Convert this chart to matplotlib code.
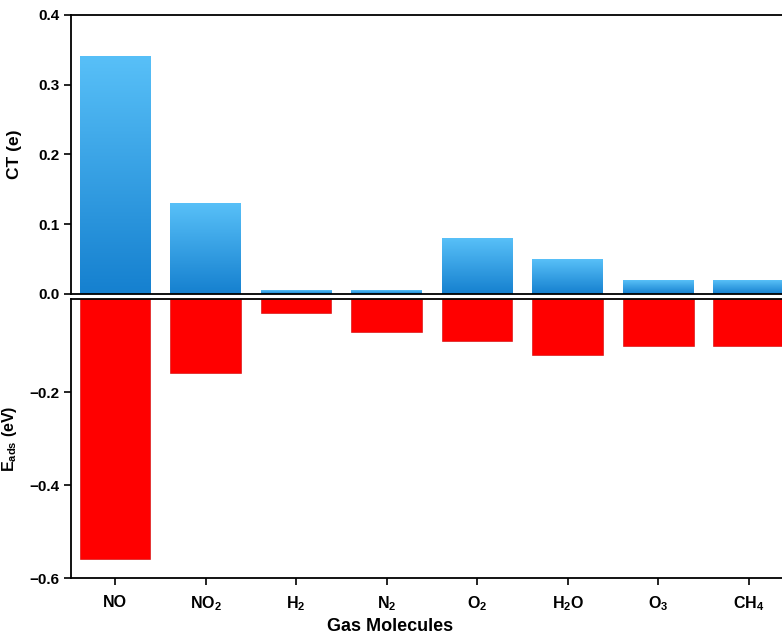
import numpy as np
import matplotlib
matplotlib.use("Agg")
import matplotlib.pyplot as plt
from matplotlib.colors import LinearSegmentedColormap

plt.rcParams['font.family'] = ['Liberation Sans', 'DejaVu Sans']
plt.rcParams['font.weight'] = 'bold'
plt.rcParams['mathtext.fontset'] = 'custom'
plt.rcParams['mathtext.rm'] = 'Liberation Sans:bold'
plt.rcParams['mathtext.bf'] = 'Liberation Sans:bold'
plt.rcParams['mathtext.it'] = 'Liberation Sans:bold'

# data
molecules = [r'NO', r'NO$_2$', r'H$_2$', r'N$_2$', r'O$_2$', r'H$_2$O', r'O$_3$', r'CH$_4$']
ct = [0.34, 0.13, 0.005, 0.005, 0.08, 0.05, 0.02, 0.02]
eads = [-0.56, -0.16, -0.03, -0.07, -0.09, -0.12, -0.10, -0.10]

x = np.arange(len(molecules))
w = 0.78

fig = plt.figure(figsize=(7.82, 6.38), dpi=100)
ax1 = fig.add_axes([0.0908, 0.5392, 0.923, 0.4373])
ax2 = fig.add_axes([0.0908, 0.0940, 0.923, 0.4373])

# gradient blue bars (light on top, dark at the base)
cmap = LinearSegmentedColormap.from_list('bl', ['#1580CF', '#58C0F8'])
grad = np.linspace(0, 1, 256).reshape(-1, 1)
for xi, v in zip(x, ct):
    ax1.imshow(grad, cmap=cmap, origin='lower', aspect='auto',
               extent=[xi - w / 2, xi + w / 2, 0, v], zorder=2)

ax2.bar(x, eads, width=w, color='#FF0000', edgecolor='#D00000', linewidth=0.4, zorder=2)

xlim = (-0.486, 7.486)
for ax in (ax1, ax2):
    ax.set_xlim(*xlim)
    for s in ax.spines.values():
        s.set_linewidth(1.3)
    ax.tick_params(axis='y', direction='out', length=5, width=1.2, labelsize=11)

ax1.set_ylim(0, 0.4)
ax1.set_yticks([0.0, 0.1, 0.2, 0.3, 0.4])
ax1.set_yticklabels(['0.0', '0.1', '0.2', '0.3', '0.4'])
ax1.tick_params(axis='x', bottom=False, labelbottom=False)
ax1.set_ylabel('CT (e)', fontsize=12.5, fontweight='bold')
ax1.yaxis.set_label_coords(-0.068, 0.5)

ax2.set_ylim(-0.6, 0)
ax2.set_yticks([-0.6, -0.4, -0.2])
ax2.set_yticklabels(['\u22120.6', '\u22120.4', '\u22120.2'])
ax2.set_xticks(x)
ax2.set_xticklabels(molecules, fontsize=11.5)
ax2.tick_params(axis='x', direction='out', length=5, width=1.2, pad=7)
ax2.set_ylabel(r'E$_{ads}$ (eV)', fontsize=11.5, fontweight='bold')
ax2.yaxis.set_label_coords(-0.072, 0.5)
ax2.set_xlabel('Gas Molecules', fontsize=13, fontweight='bold')
ax2.xaxis.set_label_coords(0.442, -0.145)

fig.savefig('out.png', dpi=100)
